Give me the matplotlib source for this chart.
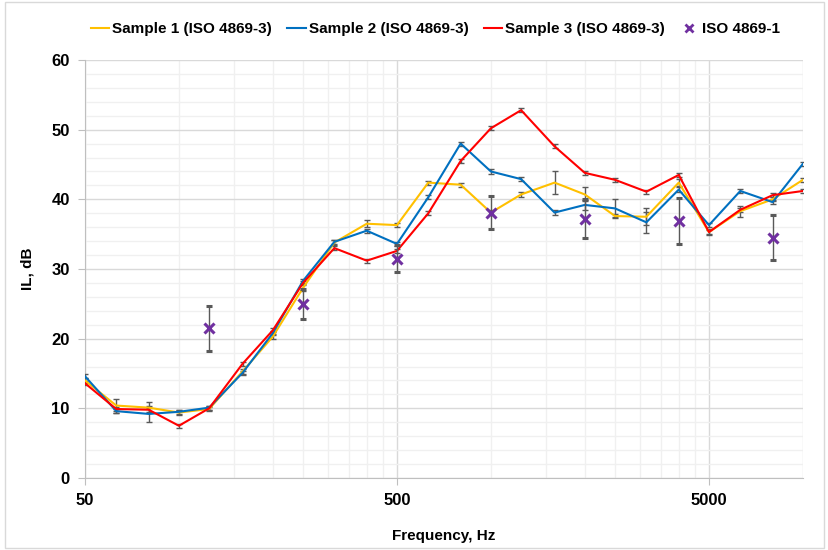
import numpy as np
import matplotlib.pyplot as plt
from matplotlib.patches import Rectangle
from matplotlib.lines import Line2D
from matplotlib.ticker import FixedLocator, NullFormatter, FixedFormatter

plt.rcParams["font.family"] = ["Liberation Sans", "DejaVu Sans"]
plt.rcParams["font.weight"] = "bold"

# third-octave band centre frequencies, Hz
freq = [50, 63, 80, 100, 125, 160, 200, 250, 315, 400, 500, 630, 800, 1000,
        1250, 1600, 2000, 2500, 3150, 4000, 5000, 6300, 8000, 10000]

sample1 = [14.0, 10.4, 10.1, 9.4, 9.9, 15.3, 20.3, 27.3, 33.8, 36.5, 36.3, 42.4,
           42.1, 38.1, 40.7, 42.4, 40.7, 37.6, 37.5, 42.4, 35.3, 38.3, 40.0, 42.8]
sample1_err = [0.3, 1.0, 0.8, 0.3, 0.3, 0.3, 0.3, 0.5, 0.3, 0.5, 0.3, 0.3,
               0.3, 0.3, 0.3, 1.6, 1.0, 0.3, 1.2, 0.5, 0.4, 0.8, 0.3, 0.3]

sample2 = [14.6, 9.6, 9.2, 9.5, 10.1, 15.1, 20.8, 28.3, 33.9, 35.5, 33.6, 40.3,
           48.0, 44.0, 42.9, 38.1, 39.2, 38.7, 36.7, 41.4, 36.3, 41.2, 39.6, 45.1]
sample2_err = [0.3, 0.3, 1.2, 0.3, 0.3, 0.3, 0.3, 0.3, 0.3, 0.3, 0.3, 0.3,
               0.3, 0.3, 0.3, 0.3, 0.7, 1.3, 1.5, 0.3, 0.3, 0.3, 0.3, 0.3]

sample3 = [13.6, 9.9, 9.8, 7.5, 10.0, 16.4, 21.2, 28.0, 33.0, 31.2, 32.6, 38.0,
           45.5, 50.2, 52.8, 47.6, 43.8, 42.8, 41.1, 43.5, 35.3, 38.5, 40.6, 41.2]
sample3_err = [0.3] * len(freq)

iso1_freq = [125, 250, 500, 1000, 2000, 4000, 8000]
iso1 = [21.5, 25.0, 31.5, 38.1, 37.2, 36.9, 34.5]
iso1_err = [3.2, 2.2, 2.0, 2.4, 2.8, 3.3, 3.2]

labels = ["Sample 1 (ISO 4869-3)", "Sample 2 (ISO 4869-3)",
          "Sample 3 (ISO 4869-3)", "ISO 4869-1"]
colors = ["#FFC000", "#0070C0", "#FF0000", "#7030A0"]

fig = plt.figure(figsize=(8.29, 5.5), dpi=100)
ax = fig.add_axes([0.1025, 0.1309, 0.866, 0.76])

err_kw = dict(ecolor="#595959", elinewidth=1.0, capsize=2.5, capthick=1.0)
for vals, errs, col in zip([sample1, sample2, sample3],
                           [sample1_err, sample2_err, sample3_err], colors[:3]):
    ax.errorbar(freq, vals, yerr=errs, color=col, lw=1.5, zorder=3, **err_kw)
ax.errorbar(iso1_freq, iso1, yerr=iso1_err, fmt="x", color=colors[3], ms=7,
            mew=2.2, zorder=4, **err_kw)

ax.set_xscale("log")
ax.set_xlim(50, 10000)
ax.set_ylim(0, 60)

ax.xaxis.set_major_locator(FixedLocator([50, 500, 5000]))
ax.xaxis.set_major_formatter(FixedFormatter(["50", "500", "5000"]))
minor_x = [m * 50 * 10 ** k for k in range(3) for m in range(2, 10)] + [10000]
ax.xaxis.set_minor_locator(FixedLocator(minor_x))
ax.xaxis.set_minor_formatter(NullFormatter())
ax.yaxis.set_major_locator(FixedLocator(range(0, 61, 10)))
ax.yaxis.set_minor_locator(FixedLocator(range(0, 61, 2)))

ax.grid(True, which="major", color="#d9d9d9", lw=1.0, zorder=0)
ax.grid(True, which="minor", color="#f0f0f0", lw=1.0, zorder=0)
ax.set_axisbelow(True)

for s in ("top", "right"):
    ax.spines[s].set_visible(False)
for s in ("left", "bottom"):
    ax.spines[s].set_color("#bfbfbf")
ax.tick_params(which="major", length=5, color="#bfbfbf", labelsize=12, pad=6)
ax.tick_params(which="minor", length=0)

ax.set_xlabel("Frequency, Hz", fontsize=11, fontweight="bold", labelpad=15)
ax.set_ylabel("IL, dB", fontsize=11, fontweight="bold", labelpad=12)

handles = [Line2D([], [], color=c, lw=1.5) for c in colors[:3]]
handles.append(Line2D([], [], color=colors[3], marker="x", ls="none", ms=6, mew=2))
fig.legend(handles, labels, loc="upper center", bbox_to_anchor=(0.525, 0.985),
           ncol=4, frameon=False, handlelength=1.2, columnspacing=1.0,
           handletextpad=0.2, prop={"weight": "bold", "size": 11})

fig.patches.append(Rectangle((0.006, 0.004), 0.988, 0.992, transform=fig.transFigure,
                             fill=False, edgecolor="#d9d9d9", lw=1.0))

fig.savefig("out.png", dpi=100)
